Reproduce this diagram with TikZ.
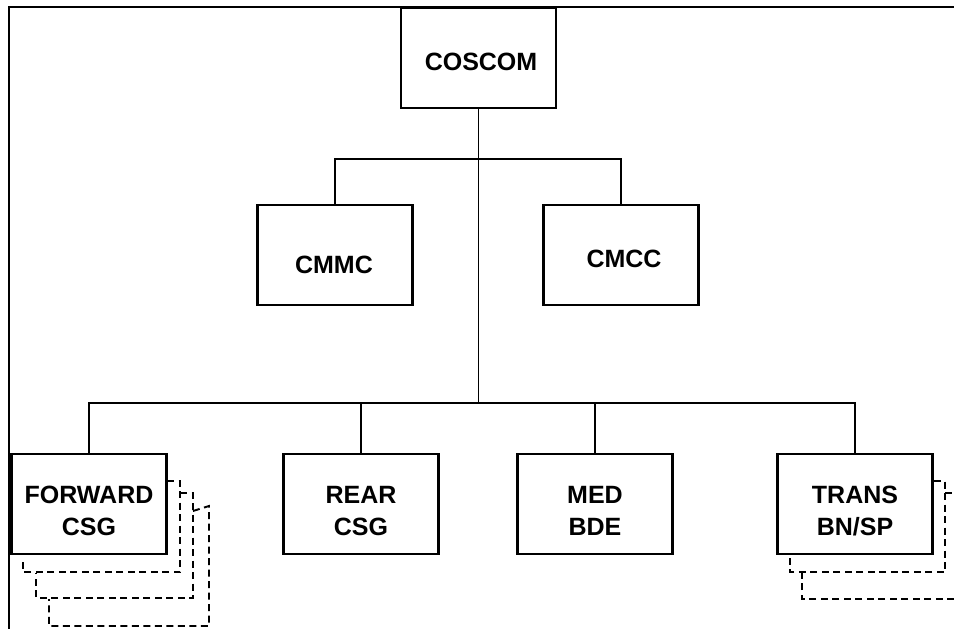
\documentclass[tikz,border=0pt]{standalone}
\usepackage{fontspec}
\setmainfont{Liberation Sans}
\begin{document}
\begin{tikzpicture}[x=1pt,y=-1pt,
  unitbox/.style={draw,line width=2.2pt,minimum width=155pt,minimum height=100pt,inner sep=0pt},
  lbl/.style={font=\fontsize{25}{32}\selectfont\bfseries,align=center,inner sep=0pt},
  link/.style={line width=1.9pt},
  shadow/.style={line width=1.9pt,dash pattern=on 7pt off 4.5pt},
  frame/.style={line width=2.6pt}]
\useasboundingbox (0,0) rectangle (954,629);
% outer frame (top and left edges)
\coordinate (ftr) at (954,7);
\coordinate (ftl) at (9,7);
\coordinate (fbl) at (9,629);
\draw[frame] (ftr) -- (ftl) -- (fbl);
% boxes
\node[unitbox] (coscom) at (478.5,58) {};
\node[unitbox] (cmmc) at (335,255) {};
\node[unitbox] (cmcc) at (621,255) {};
\node[unitbox] (fwd) at (89,504) {};
\node[unitbox] (rear) at (361,504) {};
\node[unitbox] (med) at (595,504) {};
\node[unitbox] (trans) at (855,504) {};
% labels
\node[lbl] (tcoscom) at (481,62) {COSCOM};
\node[lbl] (tcmmc) at (334,265) {CMMC};
\node[lbl] (tcmcc) at (624,259) {CMCC};
\node[lbl] (tfwd) at (89,511) {FORWARD\\CSG};
\node[lbl] (trear) at (361,511) {REAR\\CSG};
\node[lbl] (tmed) at (595,511) {MED\\BDE};
\node[lbl] (ttrans) at (855,511) {TRANS\\BN/SP};
% connectors
\coordinate (upbar) at (478.5,159);
\coordinate (lowbar) at (478.5,403);
\draw[link] (coscom.south) -- (lowbar);
\draw[link] (cmmc.north) |- (upbar) -| (cmcc.north);
\draw[link] (fwd.north) |- (lowbar);
\draw[link] (rear.north) |- (lowbar);
\draw[link] (med.north) |- (lowbar);
\draw[link] (trans.north) |- (lowbar);
% stacked copies behind FORWARD CSG
\draw[shadow] (167,481) -- (180,481) -- (180,572) -- (23,572) -- (23,558);
\draw[shadow] (180,493) -- (193,493) -- (193,598) -- (36,598) -- (36,573);
\draw[shadow] (193,511) -- (209,506) -- (209,626) -- (49,626) -- (49,599);
% stacked copies behind TRANS BN/SP
\draw[shadow] (934,481) -- (945,481) -- (945,572) -- (790,572) -- (790,558);
\draw[shadow] (945,493) -- (954,493);
\draw[shadow] (954,599) -- (802,599) -- (802,573);
\end{tikzpicture}
\end{document}
